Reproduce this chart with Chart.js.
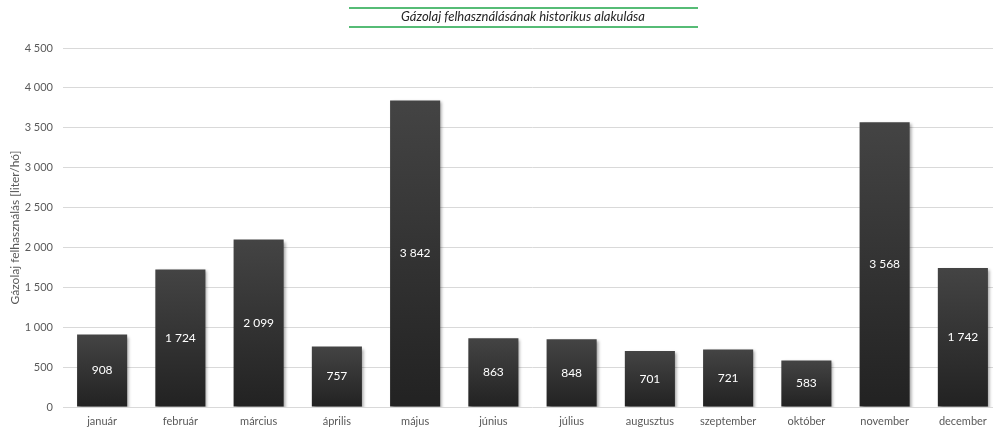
<!DOCTYPE html>
<html>
<head>
<meta charset="utf-8">
<script src="https://cdn.jsdelivr.net/npm/chart.js@4/dist/chart.umd.min.js"></script>
<style>
  html, body { margin: 0; padding: 0; background: #fff; overflow: hidden; }
  #wrap { width: 1004px; height: 432px; }
</style>
</head>
<body>
<div id="wrap"><canvas id="chart" width="1004" height="432"></canvas></div>
<script>
// adatok
const months = ['január', 'február', 'március', 'április', 'május', 'június',
  'július', 'augusztus', 'szeptember', 'október', 'november', 'december'];
const usage = [908, 1724, 2099, 757, 3842, 863, 848, 701, 721, 583, 3568, 1742];
const titleText = 'Gázolaj felhasználásának historikus alakulása';
const yTitle = 'Gázolaj felhasználás [liter/hó]';

const FONT = 'Lato, "Open Sans", sans-serif';

// ezres tagolás szóközzel
function fmt(v) {
  return String(Math.round(v)).replace(/\B(?=(\d{3})+(?!\d))/g, ' ');
}

// cím + zöld vonalak
const titlePlugin = {
  id: 'titleLines',
  afterDraw(chart) {
    const c = chart.ctx;
    c.save();
    c.strokeStyle = '#1fa64a';
    c.lineWidth = 1.5;
    c.beginPath();
    c.moveTo(349, 8); c.lineTo(698, 8);
    c.moveTo(349, 27); c.lineTo(698, 27);
    c.stroke();
    c.fillStyle = '#262626';
    c.font = 'italic 13px ' + FONT;
    c.textAlign = 'center';
    c.textBaseline = 'middle';
    c.fillText(titleText, 523, 17);
    c.restore();
  }
};

// árnyék az oszlopok alatt
const shadowPlugin = {
  id: 'barShadow',
  beforeDatasetDraw(chart) {
    const c = chart.ctx;
    c.save();
    c.shadowColor = 'rgba(0,0,0,0.35)';
    c.shadowBlur = 3;
    c.shadowOffsetX = 2;
    c.shadowOffsetY = 2;
  },
  afterDatasetDraw(chart) {
    chart.ctx.restore();
  }
};

// értékcímkék az oszlopok közepén
const labelPlugin = {
  id: 'valueLabels',
  afterDatasetsDraw(chart) {
    const c = chart.ctx;
    const meta = chart.getDatasetMeta(0);
    c.save();
    c.fillStyle = '#ffffff';
    c.font = '12px ' + FONT;
    c.textAlign = 'center';
    c.textBaseline = 'middle';
    meta.data.forEach((bar, i) => {
      const y = (bar.y + bar.base) / 2;
      c.fillText(fmt(usage[i]), bar.x, y);
    });
    c.restore();
  }
};

new Chart(document.getElementById('chart'), {
  type: 'bar',
  data: {
    labels: months,
    datasets: [{
      data: usage,
      backgroundColor(ctx) {
        const chart = ctx.chart;
        const ys = chart.scales.y;
        if (!chart.chartArea || !ys || ctx.raw === undefined) return '#333';
        const top = ys.getPixelForValue(ctx.raw);
        const base = ys.getPixelForValue(0);
        if (!isFinite(top) || !isFinite(base) || top === base) return '#333';
        const g = chart.ctx.createLinearGradient(0, top, 0, base);
        g.addColorStop(0, '#444444');
        g.addColorStop(1, '#222222');
        return g;
      },
      barPercentage: 0.64,
      categoryPercentage: 1
    }]
  },
  options: {
    responsive: false,
    animation: false,
    layout: { padding: { top: 48, right: 2, left: 8, bottom: 0 } },
    plugins: {
      legend: { display: false },
      tooltip: { enabled: false }
    },
    scales: {
      x: {
        grid: { display: false },
        border: { display: false },
        ticks: { color: '#595959', font: { family: FONT, size: 11 }, padding: 0, maxRotation: 0 },
        afterFit(scale) { scale.height = 25; }
      },
      y: {
        min: 0,
        max: 4500,
        grid: { color: '#d9d9d9', drawTicks: false },
        border: { display: false },
        ticks: {
          stepSize: 500,
          padding: 10,
          color: '#595959',
          font: { family: FONT, size: 11 },
          callback: v => fmt(v)
        },
        title: {
          display: true,
          text: yTitle,
          color: '#595959',
          font: { family: FONT, size: 12 },
          padding: { top: 0, bottom: 0 }
        },
        afterFit(scale) { scale.width = 55; }
      }
    }
  },
  plugins: [shadowPlugin, labelPlugin, titlePlugin]
});
</script>
</body>
</html>
